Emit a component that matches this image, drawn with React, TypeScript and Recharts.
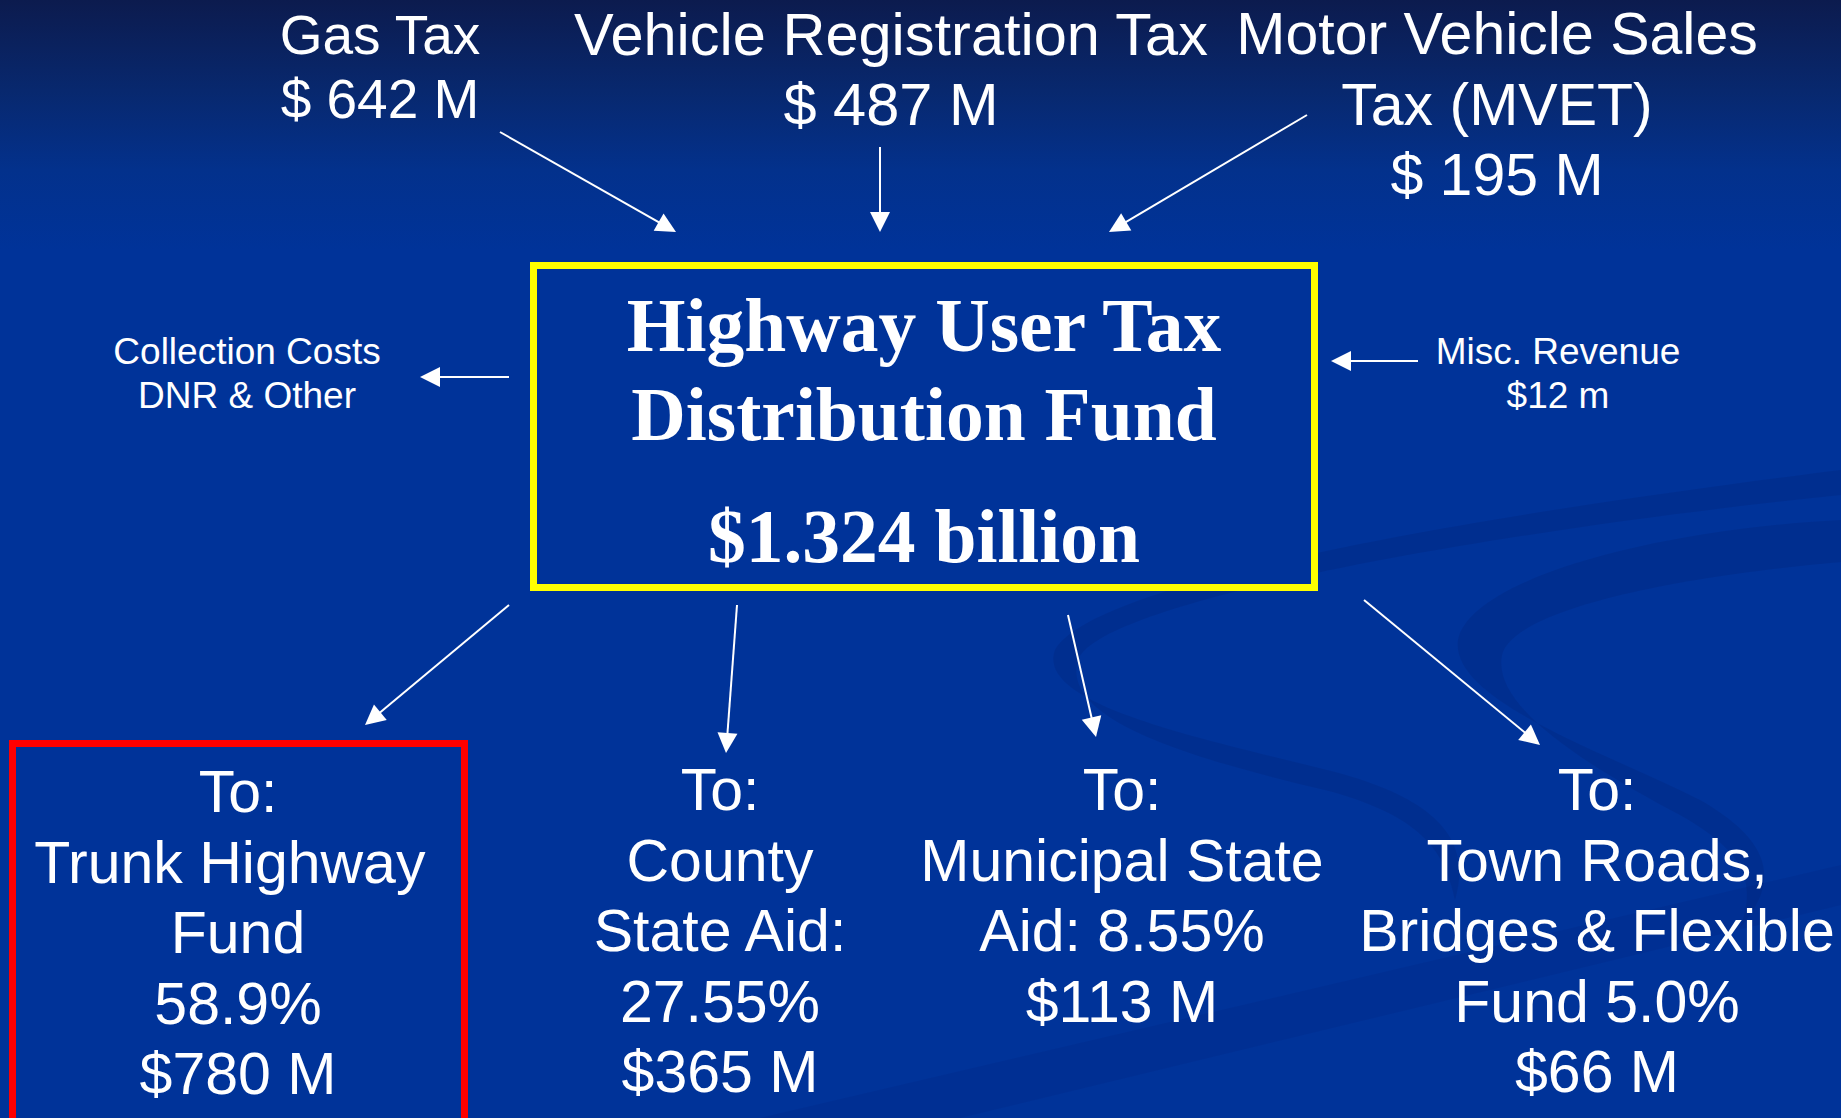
import React from "react";
import { ScatterChart, Scatter, XAxis, YAxis, ReferenceLine, ReferenceArea } from "recharts";

// ---------- data ----------
const sourceLabels: string[][] = [["Gas Tax"], ["Vehicle Registration Tax"], ["Motor Vehicle Sales", "Tax (MVET)"]];
const sourceAmounts: number[] = [642, 487, 195];

const fundTitle: string[] = ["Highway User Tax", "Distribution Fund"];
const fundTotal = "$1.324 billion";

const collectionLabel: string[] = ["Collection Costs", "DNR & Other"];
const miscRevenueName = "Misc. Revenue";
const miscRevenueAmount = 12;

const destNames: string[][] = [
  ["Trunk Highway\u00a0", "Fund"],
  ["County", "State Aid:"],
  ["Municipal State", "Aid:"],
  ["Town Roads,", "Bridges & Flexible", "Fund"],
];
const destShares: string[] = ["58.9%", "27.55%", "8.55%", "5.0%"];
const destShareInline: boolean[] = [false, false, true, true];
const destAmounts: number[] = [780, 365, 113, 66];

// ---------- layout (pixel space of the 1841 x 1118 canvas) ----------
const W = 1841;
const H = 1118;
const sourcePos = [
  { x: 380, y: 54, fs: 55, lh: 64 },
  { x: 891, y: 55, fs: 59.5, lh: 70 },
  { x: 1497, y: 54, fs: 59, lh: 70.5 },
];
const destPos = [
  { x: 238, y: 812 },
  { x: 720, y: 810 },
  { x: 1122, y: 810 },
  { x: 1597, y: 810 },
];
const sourceArrows = [
  [500, 132, 676, 232],
  [880, 147, 880, 232],
  [1307, 115, 1109, 232],
];
const sideArrows = [
  [509, 377, 420, 377],
  [1418, 361, 1331, 361],
];
const destArrows = [
  [509, 605, 365, 725],
  [737, 605, 726, 753],
  [1068, 615, 1096, 737],
  [1364, 600, 1540, 745],
];

const SANS = "'Liberation Sans', Arial, sans-serif";
const SERIF = "'Liberation Serif', 'Times New Roman', serif";

// ---------- tables built from data + layout ----------
const sourceTable = sourceLabels.map((lines, i) => ({
  x: sourcePos[i].x,
  y: sourcePos[i].y,
  fs: sourcePos[i].fs,
  lh: sourcePos[i].lh,
  lines: [...lines, `$ ${sourceAmounts[i]} M`],
}));

const destTable = destNames.map((names, i) => {
  const lines = ["To:", ...names];
  if (destShareInline[i]) lines[lines.length - 1] = `${lines[lines.length - 1]} ${destShares[i]}`;
  else lines.push(destShares[i]);
  lines.push(`$${destAmounts[i]} M`);
  return { x: destPos[i].x, y: destPos[i].y, fs: 59, lh: 70.5, lines };
});

const sideTable = [
  { x: 247, y: 364, fs: 37, lh: 44, lines: collectionLabel },
  { x: 1558, y: 364, fs: 37, lh: 44, lines: [miscRevenueName, `$${miscRevenueAmount} m`] },
];

const fundTable = [
  { x: 924, y: 351, fs: 75.5, lh: 89, lines: fundTitle, serif: true },
  { x: 924, y: 562, fs: 75.5, lh: 89, lines: [fundTotal], serif: true },
];

const TextBlock = (props: any) => {
  const { cx, cy, payload } = props;
  if (cx == null || cy == null) return null;
  return (
    <text
      x={cx}
      y={cy}
      textAnchor="middle"
      fill="#ffffff"
      fontFamily={payload.serif ? SERIF : SANS}
      fontWeight={payload.serif ? 700 : 400}
      fontSize={payload.fs}
      style={{ whiteSpace: "pre" }}
    >
      {payload.lines.map((l: string, i: number) => (
        <tspan key={i} x={cx} dy={i === 0 ? 0 : payload.lh}>
          {l}
        </tspan>
      ))}
    </text>
  );
};

const Arrow = (p: any) => {
  const x1 = Number(p.x1), y1 = Number(p.y1), x2 = Number(p.x2), y2 = Number(p.y2);
  const dx = x2 - x1, dy = y2 - y1;
  const len = Math.hypot(dx, dy) || 1;
  const ux = dx / len, uy = dy / len;
  const hl = 20, hw = 10;
  const bx = x2 - ux * hl, by = y2 - uy * hl;
  const pts = `${x2},${y2} ${bx - uy * hw},${by + ux * hw} ${bx + uy * hw},${by - ux * hw}`;
  return (
    <g>
      <line x1={x1} y1={y1} x2={bx + ux * 2} y2={by + uy * 2} stroke="#ffffff" strokeWidth={2} />
      <polygon points={pts} fill="#ffffff" />
    </g>
  );
};

const allArrows = [...sourceArrows, ...sideArrows, ...destArrows];

const SWOOSH = "rgba(0,28,105,0.20)";

export default function App() {
  return (
    <div
      style={{
        position: "fixed",
        left: 0,
        top: 0,
        width: W,
        height: H,
        overflow: "hidden",
        background: "linear-gradient(to bottom, #0c1b4e 0px, #08286e 90px, #03318c 170px, #003399 250px, #003399 100%)",
      }}
    >
      <svg width={W} height={H} style={{ position: "absolute", left: 0, top: 0 }}>
        {/* faint background swooshes */}
        <path
          d="M 1841 470 C 1600 500, 1100 570, 1055 650 C 1035 705, 1200 738, 1335 772 C 1440 800, 1472 842, 1455 900
             C 1445 850, 1420 815, 1325 790 C 1190 758, 1060 720, 1078 660 C 1100 600, 1500 530, 1841 495 Z"
          fill={SWOOSH}
        />
        <path
          d="M 1841 520 C 1650 530, 1470 580, 1458 640 C 1450 700, 1600 750, 1700 800 C 1770 840, 1782 880, 1740 928
             C 1758 880, 1742 850, 1680 815 C 1580 762, 1492 705, 1502 655 C 1512 612, 1660 578, 1841 562 Z"
          fill={SWOOSH}
        />
        <path d="M 760 1118 L 1841 865 L 1841 905 L 960 1118 Z" fill="rgba(0,28,105,0.12)" />
      </svg>
      <div style={{ position: "absolute", left: 0, top: 0 }}>
        <ScatterChart width={W} height={H} margin={{ top: 0, right: 0, bottom: 0, left: 0 }}>
          <XAxis type="number" dataKey="x" domain={[0, W]} hide allowDataOverflow />
          <YAxis type="number" dataKey="y" domain={[0, H]} reversed hide allowDataOverflow />
          <ReferenceArea x1={533.5} x2={1314.5} y1={265.5} y2={587.5} fill="#003399" fillOpacity={1}
            stroke="#ffff00" strokeWidth={7} ifOverflow="visible" />
          <ReferenceArea x1={12.5} x2={464.5} y1={743.5} y2={1150} fill="#003399" fillOpacity={1}
            stroke="#ff0000" strokeWidth={7} ifOverflow="visible" />
          {allArrows.map((a, i) => (
            <ReferenceLine
              key={i}
              segment={[{ x: a[0], y: a[1] }, { x: a[2], y: a[3] }]}
              ifOverflow="visible"
              shape={Arrow}
            />
          ))}
          <Scatter data={sourceTable} shape={TextBlock} isAnimationActive={false} />
          <Scatter data={fundTable} shape={TextBlock} isAnimationActive={false} />
          <Scatter data={sideTable} shape={TextBlock} isAnimationActive={false} />
          <Scatter data={destTable} shape={TextBlock} isAnimationActive={false} />
        </ScatterChart>
      </div>
    </div>
  );
}
